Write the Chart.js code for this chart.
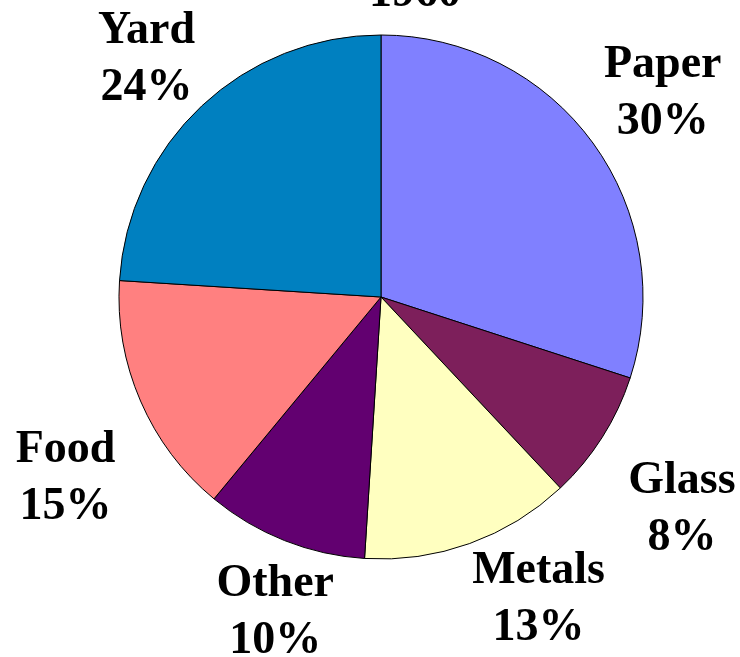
<!DOCTYPE html>
<html>
<head>
<meta charset="utf-8">
<title>Municipal solid waste 1960</title>
<script src="https://cdn.jsdelivr.net/npm/chart.js@4.4.1/dist/chart.umd.min.js"></script>
<style>
  html, body { margin: 0; padding: 0; background: #fff; }
  canvas { display: block; }
</style>
</head>
<body>
<canvas id="grafico" width="740" height="657"></canvas>
<script>
const categorias = ['Paper', 'Glass', 'Metals', 'Other', 'Food', 'Yard'];
const percentuais = [30, 8, 13, 10, 15, 24];
const cores = ['#8080FF', '#7D1F5B', '#FFFFC0', '#620070', '#FF8080', '#0080C0'];
const titulo = '1960';

// ajuste fino de cada rótulo em relação ao ponto no meio da fatia
const ajusteRotulos = [[1, 12], [8, 38], [40, -12], [22, 4], [3, 55], [3, 27]];

const fonteRotulo = 'bold 46px "Liberation Serif", "Times New Roman", serif';

// rótulos com nome e porcentagem fora da pizza
const rotulosPizza = {
    id: 'rotulosPizza',
    afterDraw(chart) {
        const ctx = chart.ctx;
        const arcos = chart.getDatasetMeta(0).data;
        ctx.save();
        ctx.fillStyle = '#000';
        ctx.font = fonteRotulo;
        ctx.textAlign = 'center';
        ctx.textBaseline = 'alphabetic';

        arcos.forEach((arco, i) => {
            const meio = (arco.startAngle + arco.endAngle) / 2;
            const dist = arco.outerRadius + 85;
            const x = arco.x + Math.cos(meio) * dist + ajusteRotulos[i][0];
            const y = arco.y + Math.sin(meio) * dist + ajusteRotulos[i][1];
            ctx.fillText(categorias[i], x, y - 28);
            ctx.fillText(percentuais[i] + '%', x, y + 29);
        });

        // título (fica cortado no topo)
        ctx.fillText(titulo, 415, 6);
        ctx.restore();
    }
};

const grafico = new Chart(document.getElementById('grafico'), {
    type: 'pie',
    data: {
        labels: categorias,
        datasets: [{
            data: percentuais,
            backgroundColor: cores,
            borderColor: '#000',
            borderWidth: 1,
            hoverOffset: 0
        }]
    },
    options: {
        responsive: false,
        animation: false,
        radius: 262,
        layout: {
            padding: { left: 119, right: 97, top: 35, bottom: 98 }
        },
        plugins: {
            legend: { display: false },
            tooltip: { enabled: false },
            title: { display: false }
        }
    },
    plugins: [rotulosPizza]
});
</script>
</body>
</html>
